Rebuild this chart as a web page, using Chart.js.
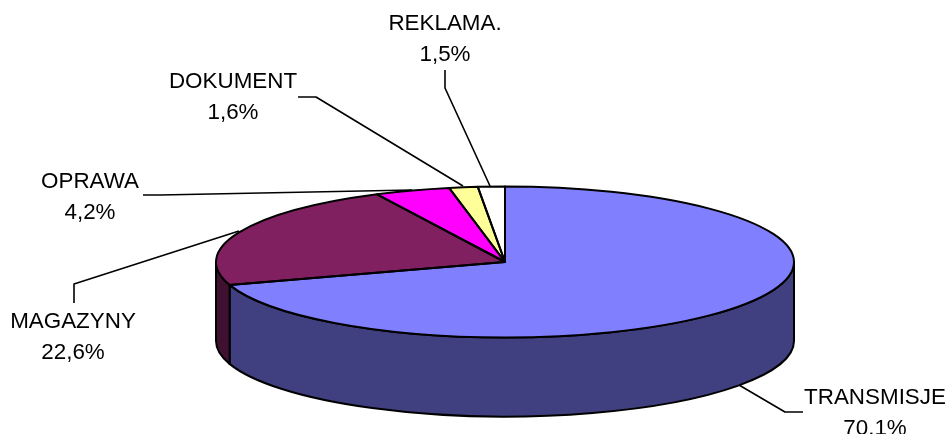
<!DOCTYPE html>
<html><head><meta charset="utf-8">
<style>html,body{margin:0;padding:0;background:#fff}canvas{display:block}</style>
<script src="https://cdn.jsdelivr.net/npm/chart.js@4"></script>
</head><body>
<canvas id="c" width="947" height="434"></canvas>
<script>
const categories = ["TRANSMISJE","MAGAZYNY","OPRAWA","DOKUMENT","REKLAMA."];
const shares = [70.1,22.6,4.2,1.6,1.5];
const shareLabels = ["70.1%","22,6%","4,2%","1,6%","1,5%"];
const topColors = ["#8080FF","#802060","#FF00FF","#FFFF99","#FFFFFF"];
const sideColors = ["#404080","#401030","#800080","#808050","#808080"];

// Projection of the library's circular pie onto a tilted disc
const VIEW = {cx:505, cy:262, rx:289, ry:75.5, depth:79};
// Label anchors (centre x, first baseline) and leader-line elbows, in slice order
const LABEL_POS = [[875,404],[73,328],[90,188],[233,88],[445,30]];
const LEADERS = [
  [[803,412],[785,412],[739,385]],
  [[74,303],[74,284],[239,231]],
  [[143,195],[160,195],[412,190]],
  [[298,97],[316,97],[463,186]],
  [[445,70],[445,88],[490,186]]
];

const tilt = {
  id:'tilt',
  beforeDatasetsDraw(chart){
    const ctx = chart.ctx, arcs = chart.getDatasetMeta(0).data, V = VIEW;
    ctx.save();
    ctx.lineWidth = 2; ctx.lineJoin = 'round'; ctx.strokeStyle = '#000';
    arcs.forEach((a,i)=>{
      const p = a.getProps(['startAngle','endAngle']);
      const norm = t => { let x = t % (2*Math.PI); return x < -Math.PI/2 ? x + 2*Math.PI : x; };
      let s = Math.max(norm(p.startAngle), 0), e = Math.min(norm(p.startAngle) + (p.endAngle-p.startAngle), Math.PI);
      if (e <= s) return;
      ctx.beginPath();
      ctx.ellipse(V.cx,V.cy,V.rx,V.ry,0,s,e);
      ctx.ellipse(V.cx,V.cy+V.depth,V.rx,V.ry,0,e,s,true);
      ctx.closePath();
      ctx.fillStyle = sideColors[i];
      ctx.fill(); ctx.stroke();
    });
    ctx.restore();
    const a0 = arcs[0], R = a0.outerRadius;
    ctx.save();
    ctx.translate(V.cx,V.cy);
    ctx.scale(V.rx/R,V.ry/R);
    ctx.translate(-a0.x,-a0.y);
  },
  afterDatasetsDraw(chart){
    const ctx = chart.ctx, arcs = chart.getDatasetMeta(0).data, V = VIEW;
    ctx.restore();
    ctx.save();
    ctx.lineWidth = 2; ctx.lineJoin = 'round'; ctx.strokeStyle = '#000';
    arcs.forEach(a=>{
      ctx.beginPath();
      ctx.moveTo(V.cx,V.cy);
      ctx.ellipse(V.cx,V.cy,V.rx,V.ry,0,a.startAngle,a.endAngle);
      ctx.closePath();
      ctx.stroke();
    });
    ctx.lineWidth = 1.6;
    LEADERS.forEach(pts=>{
      ctx.beginPath();
      pts.forEach((q,k)=> k ? ctx.lineTo(q[0],q[1]) : ctx.moveTo(q[0],q[1]));
      ctx.stroke();
    });
    ctx.fillStyle = '#000';
    ctx.font = '22.4px "Liberation Sans", Arial, sans-serif';
    ctx.textAlign = 'center'; ctx.textBaseline = 'alphabetic';
    categories.forEach((c,i)=>{
      const [x,y] = LABEL_POS[i];
      ctx.fillText(c,x,y);
      ctx.fillText(shareLabels[i],x,y+30.5);
    });
    ctx.restore();
  }
};

new Chart(document.getElementById('c'),{
  type:'pie',
  data:{labels:categories,datasets:[{data:shares,backgroundColor:topColors,borderWidth:0}]},
  options:{
    responsive:false,animation:false,
    layout:{padding:0},
    plugins:{legend:{display:false},tooltip:{enabled:false}}
  },
  plugins:[tilt]
});
</script>
</body></html>
